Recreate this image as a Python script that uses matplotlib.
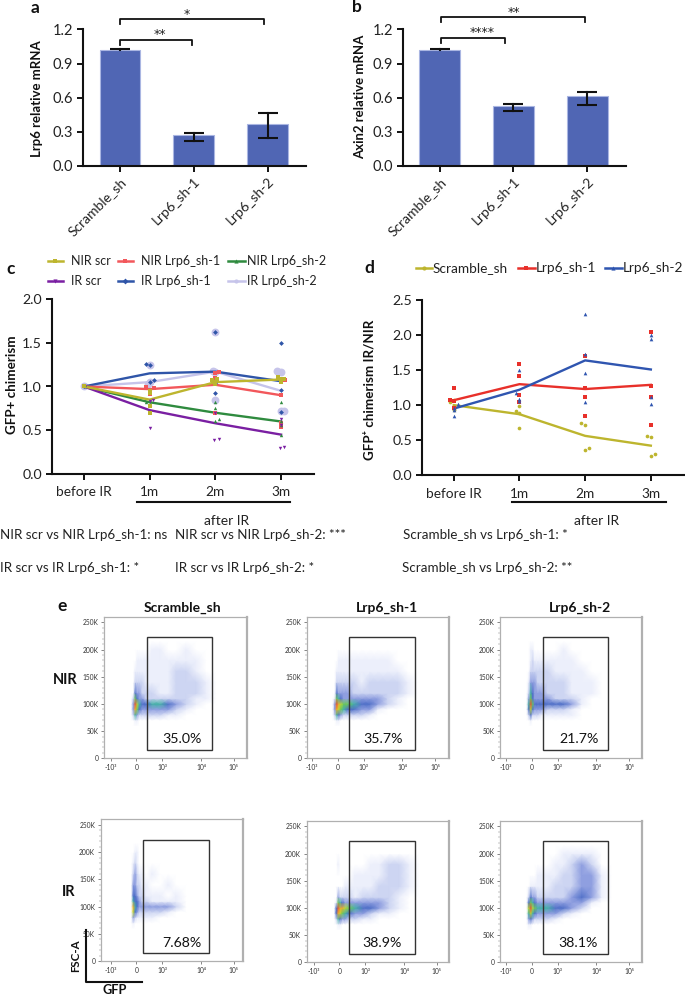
import matplotlib
matplotlib.use("Agg")
import matplotlib.pyplot as plt
import numpy as np
from matplotlib.colors import LinearSegmentedColormap
from matplotlib.patches import Rectangle
from matplotlib.lines import Line2D

plt.rcParams['font.family'] = ['Lato', 'DejaVu Sans']

# ---------- data ----------
bar_labels = ['Scramble_sh', 'Lrp6_sh-1', 'Lrp6_sh-2']
lrp6_vals = [1.015, 0.27, 0.365]
lrp6_hi = [1.025, 0.29, 0.46]
lrp6_lo = [1.015, 0.22, 0.24]
axin2_vals = [1.015, 0.525, 0.61]
axin2_hi = [1.03, 0.54, 0.65]
axin2_lo = [1.015, 0.48, 0.535]

time_labels = ['before IR', '1m', '2m', '3m']

c_names = ['NIR scr', 'NIR Lrp6_sh-1', 'NIR Lrp6_sh-2', 'IR scr', 'IR Lrp6_sh-1', 'IR Lrp6_sh-2']
c_means = {
    'NIR scr': [1.0, 0.85, 1.05, 1.08],
    'NIR Lrp6_sh-1': [1.0, 0.97, 1.02, 0.90],
    'NIR Lrp6_sh-2': [1.0, 0.82, 0.70, 0.60],
    'IR scr': [1.0, 0.73, 0.58, 0.45],
    'IR Lrp6_sh-1': [1.0, 1.15, 1.17, 1.06],
    'IR Lrp6_sh-2': [1.0, 1.05, 1.17, 0.95],
}
c_pts = {
    'NIR scr': [(0, 1.0), (1, .70), (1, .78), (1, .95), (1, .93), (2, 1.03), (1.95, 1.07), (2, 1.05), (2.03, 1.08), (3, 1.05), (2.95, 1.11), (3, 1.08), (3.05, 1.09)],
    'NIR Lrp6_sh-1': [(0, 1.0), (.95, .99), (1.06, .98), (1, .96), (1, .91), (2, 1.15), (2.06, 1.16), (2, 1.10), (2, .70), (3.06, 1.07), (3, .90), (3, .58), (3, .54)],
    'NIR Lrp6_sh-2': [(0, 1.0), (.95, .82), (1, .80), (1, .83), (2, .82), (2, .75), (2.05, .63), (1.99, .60), (3, .82), (3, .60), (3, .44), (3, .56)],
    'IR scr': [(0, 1.0), (1, .53), (1.05, .84), (1, .83), (1.98, .39), (2.05, .40), (2, .70), (2.98, .30), (3.05, .31), (3, .63), (3, .56)],
    'IR Lrp6_sh-1': [(0, 1.0), (.95, 1.26), (1, 1.24), (1.06, 1.07), (1, 1.05), (2, 1.62), (2, 1.10), (2, .93), (2, 1.04), (3, 1.50), (3, 1.07), (3, .96), (3, .71)],
    'IR Lrp6_sh-2': [(0, 1.0), (.97, 1.03), (1, 1.05), (1, 1.24), (2, 1.62), (2, 1.17), (1.97, 1.18), (2, .85), (2.94, 1.18), (3, 1.17), (3, .72), (3.05, .72)],
}
d_names = ['Scramble_sh', 'Lrp6_sh-1', 'Lrp6_sh-2']
d_means = {
    'Scramble_sh': [1.0, 0.87, 0.56, 0.42],
    'Lrp6_sh-1': [1.07, 1.30, 1.23, 1.29],
    'Lrp6_sh-2': [0.95, 1.22, 1.64, 1.51],
}
d_pts = {
    'Scramble_sh': [(-.06, 1.04), (0, 1.07), (0, .95), (0, .93), (.94, .91), (1, .89), (1, .99), (1, .67), (1.94, .74), (2, .72), (2, .36), (2.06, .39), (2.94, .56), (3, .54), (3, .27), (3.06, .30)],
    'Lrp6_sh-1': [(-.06, 1.08), (0, 1.24), (0, 1.06), (0, .96), (1, 1.59), (1, 1.41), (1, 1.15), (1, 1.05), (2, 1.70), (2, 1.24), (2, 1.12), (2, .85), (3, 2.05), (3, 1.28), (3, 1.12), (3, .71)],
    'Lrp6_sh-2': [(.06, 1.02), (0, .93), (0, .85), (0, .96), (1, 1.50), (.94, 1.17), (1, 1.09), (1, 1.06), (2, 2.30), (2, 1.73), (2, 1.46), (2, 1.04), (3, 2.0), (3, 1.94), (3, 1.12), (3, 1.02)],
}

stat_lines = [
    ('NIR scr vs NIR Lrp6_sh-1: ns', 0, 535), ('NIR scr vs NIR Lrp6_sh-2: ***', 175, 535),
    ('Scramble_sh vs Lrp6_sh-1: *', 403, 535), ('IR scr vs IR Lrp6_sh-1: *', 0, 568),
    ('IR scr vs IR Lrp6_sh-2: *', 175, 568), ('Scramble_sh vs Lrp6_sh-2: **', 402, 568),
]

# flow density levels (0 empty .. 9 peak)
flow_x = [-3, -1, 1, 3, 6, 10, 16, 24, 32, 40, 50, 60, 70, 80]
flow_y = [200, 180, 160, 140, 120, 110, 100, 90, 80, 70]
flow_nir_scr = [
    [0,0,0,0,0,0,1,1,0,0,1,0,0,0],
    [0,0,1,1,1,1,1,1,1,1,1,1,0,0],
    [0,1,1,1,1,1,1,1,1,2,2,1,0,0],
    [0,2,2,2,2,1,1,1,1,2,2,2,1,0],
    [0,4,3,3,2,2,2,1,1,2,2,2,1,0],
    [2,6,4,3,3,2,2,2,2,2,2,1,1,0],
    [3,9,7,5,4,4,5,5,4,3,2,1,0,0],
    [3,8,6,4,3,3,3,3,3,2,1,0,0,0],
    [2,5,3,2,2,2,2,2,1,1,0,0,0,0],
    [0,1,1,0,0,0,0,0,0,0,0,0,0,0]]
flow_nir_sh1 = [
    [0,0,0,0,0,0,0,0,0,0,0,0,0,0],
    [0,0,1,1,1,1,1,1,1,1,1,0,0,0],
    [0,1,1,1,1,1,1,1,1,1,1,1,0,0],
    [0,2,2,2,2,2,2,1,2,2,2,2,1,0],
    [0,4,3,3,3,3,2,2,2,2,2,2,1,0],
    [1,6,5,4,3,3,3,3,3,3,2,1,0,0],
    [3,9,8,7,6,6,5,4,4,3,2,1,0,0],
    [3,8,7,6,5,4,4,3,3,1,0,0,0,0],
    [2,5,4,3,2,2,2,2,1,0,0,0,0,0],
    [0,1,1,0,0,0,0,0,0,0,0,0,0,0]]
flow_nir_sh2 = [
    [0,1,1,0,0,0,0,0,1,0,0,0,0,0],
    [0,1,2,1,1,1,1,1,1,1,0,0,0,0],
    [0,2,2,2,2,2,2,1,1,1,1,0,0,0],
    [1,3,3,3,2,2,2,2,2,1,1,1,0,0],
    [2,5,4,3,3,3,2,2,2,1,1,1,0,0],
    [3,6,4,3,3,3,3,2,2,2,1,0,0,0],
    [5,9,6,4,4,4,4,4,4,3,1,0,0,0],
    [4,7,4,3,3,3,2,2,2,1,0,0,0,0],
    [2,4,2,2,2,1,1,1,1,1,0,0,0,0],
    [0,1,0,0,0,0,0,0,0,0,0,0,0,0]]
flow_ir_scr = [
    [0,1,1,0,0,0,0,0,0,0,0,0,0,0],
    [1,2,1,0,0,0,0,0,0,0,0,0,0,0],
    [2,3,2,1,1,0,1,0,0,0,0,0,0,0],
    [3,3,2,2,1,1,0,0,1,0,0,0,0,0],
    [4,4,3,2,2,1,1,1,0,1,0,0,0,0],
    [5,4,4,3,2,2,1,1,1,1,0,0,0,0],
    [8,5,4,3,3,3,3,3,3,2,0,0,0,0],
    [7,4,3,2,2,2,2,2,1,0,0,0,0,0],
    [3,2,1,1,1,1,1,0,0,0,0,0,0,0],
    [1,0,0,0,0,0,0,0,0,0,0,0,0,0]]
flow_ir_sh1 = [
    [0,0,0,0,0,0,0,0,0,0,0,0,0,0],
    [0,1,0,0,0,0,0,0,1,1,2,2,1,0],
    [0,0,0,0,0,0,1,1,1,1,2,2,1,0],
    [0,0,0,0,1,1,1,1,1,2,2,2,1,0],
    [0,3,2,2,2,2,1,2,2,2,2,1,0,0],
    [1,6,5,4,3,3,3,3,3,3,2,1,0,0],
    [4,9,8,8,7,6,5,4,4,3,2,1,0,0],
    [4,8,7,6,5,4,3,3,2,1,1,0,0,0],
    [2,5,4,3,3,2,2,1,1,0,0,0,0,0],
    [0,1,1,0,0,0,0,0,0,0,0,0,0,0]]
flow_ir_sh2 = [
    [0,0,0,0,0,0,0,0,1,1,1,1,0,0],
    [0,0,0,0,0,0,0,1,1,2,3,2,0,0],
    [0,0,0,0,1,1,1,1,2,2,3,3,1,0],
    [0,1,1,1,1,1,1,2,2,2,3,3,1,0],
    [2,4,3,3,2,2,2,2,2,3,4,3,1,0],
    [4,6,5,4,3,3,3,3,3,3,3,1,0,0],
    [7,9,7,6,5,5,5,4,4,3,2,0,0,0],
    [5,7,5,4,3,3,3,3,2,1,0,0,0,0],
    [3,4,3,2,2,2,2,1,0,0,0,0,0,0],
    [1,1,0,0,0,0,0,0,0,0,0,0,0,0]]
flow_pct = ['35.0%', '35.7%', '21.7%', '7.68%', '38.9%', '38.1%']
flow_yticks = [0, 50, 100, 150, 200, 250]
flow_ylabels = ['0', '50K', '100K', '150K', '200K', '250K']
flow_xlabels = ['-10³', '0', '10³', '10⁴', '10⁵']

# ---------- layout helpers ----------
W, H = 685, 996
fig = plt.figure(figsize=(W / 100, H / 100), dpi=100, facecolor='white')


def ax_px(l, t, r, b, **kw):
    return fig.add_axes([l / W, 1 - b / H, (r - l) / W, (b - t) / H], **kw)


ov = fig.add_axes([0, 0, 1, 1], zorder=10)
ov.set_xlim(0, W)
ov.set_ylim(H, 0)
ov.axis('off')
ov.patch.set_alpha(0)

BLK = '#111111'
TXT = '#222222'


def style_axes(ax, fs):
    for s in ('top', 'right'):
        ax.spines[s].set_visible(False)
    for s in ('left', 'bottom'):
        ax.spines[s].set_linewidth(1.5)
        ax.spines[s].set_color(BLK)
    ax.tick_params(axis='both', width=1.4, length=4, color=BLK, labelsize=fs, labelcolor=TXT, pad=3)


def ylabel_at(ax, box, text, xpx, ypx, fs):
    l, t, r, b = box
    ax.set_ylabel(text, fontsize=fs, fontweight='bold', color=BLK, va='center')
    ax.yaxis.set_label_coords((xpx - l) / (r - l), (b - ypx) / (b - t))


def bar_panel(box, vals, hi, lo, ylab, labx, laby):
    l, t, r, b = box
    ax = ax_px(l, t, r, b)
    style_axes(ax, 10.5)
    x = np.arange(len(vals))
    ax.bar(x, vals, width=0.55, color='#5066b4', edgecolor='#aab6e2', linewidth=0.8, zorder=2)
    for xi, h, lw in zip(x, hi, lo):
        ax.plot([xi, xi], [lw, h], color=BLK, lw=1.5, zorder=3)
        for yy in (h, lw):
            if h - lw > 0.02 or yy == h:
                ax.plot([xi - 0.135, xi + 0.135], [yy, yy], color=BLK, lw=1.5, zorder=3, solid_capstyle='butt')
    ax.set_xlim(-0.5, 2.52)
    ax.set_ylim(0, 1.2)
    ax.set_yticks([0, .3, .6, .9, 1.2])
    ax.set_yticklabels(['0.0', '0.3', '0.6', '0.9', '1.2'])
    ax.set_xticks(x)
    ax.set_xticklabels(bar_labels, rotation=45, ha='right', rotation_mode='anchor', fontsize=10)
    ylabel_at(ax, box, ylab, labx, laby, 9.5)
    return ax


def bracket(x0, x1, ytop, ytip, star, sx, sy):
    ov.plot([x0, x0, x1, x1], [ytip, ytop, ytop, ytip], color=BLK, lw=1.3, solid_joinstyle='round')
    ov.text(sx, sy, star, ha='center', va='center', fontsize=9, color=TXT, family='DejaVu Sans')


# ---------- a, b ----------
bar_panel((83, 29.5, 306, 165.7), lrp6_vals, lrp6_hi, lrp6_lo, 'Lrp6 relative mRNA', 37, 99)
bar_panel((402.7, 29.5, 625.7, 165.7), axin2_vals, axin2_hi, axin2_lo, 'Axin2 relative mRNA', 360, 97)
bracket(120, 264, 19.3, 24, '*', 186.7, 14)
bracket(120, 191.7, 40, 45, '**', 160, 34)
bracket(441, 585, 16.7, 22, '**', 514, 12)
bracket(441, 505, 38.3, 43, '****', 481.7, 32)

# ---------- c, d ----------
c_colors = {'NIR scr': '#bdb52e', 'NIR Lrp6_sh-1': '#f2575b', 'NIR Lrp6_sh-2': '#2f8b3f',
            'IR scr': '#7a1fa2', 'IR Lrp6_sh-1': '#2f55a8', 'IR Lrp6_sh-2': '#c6c4ea'}
c_marks = {'NIR scr': 's', 'NIR Lrp6_sh-1': 's', 'NIR Lrp6_sh-2': '^',
           'IR scr': 'v', 'IR Lrp6_sh-1': 'D', 'IR Lrp6_sh-2': 'o'}
d_colors = {'Scramble_sh': '#bdb52e', 'Lrp6_sh-1': '#e8302a', 'Lrp6_sh-2': '#2f55b0'}
d_marks = {'Scramble_sh': 'o', 'Lrp6_sh-1': 's', 'Lrp6_sh-2': '^'}


def time_axes(box, xmax, ymax, yticks, ylab, labx, laby):
    l, t, r, b = box
    ax = ax_px(l, t, r, b)
    style_axes(ax, 10.2)
    ax.set_xlim(-0.488, xmax)
    ax.set_ylim(0, ymax)
    ax.set_yticks(yticks)
    ax.set_yticklabels([f'{v:.1f}' for v in yticks])
    ax.set_xticks(range(4))
    ax.set_xticklabels(time_labels, fontsize=9.8)
    ax.tick_params(axis='x', pad=5)
    ylabel_at(ax, box, ylab, labx, laby, 9.6)
    return ax


axc = time_axes((51.7, 299, 314, 474), 3.5, 2.0, [0, .5, 1, 1.5, 2], 'GFP+ chimerism', 12, 385)
order_c = ['IR Lrp6_sh-2', 'IR Lrp6_sh-1', 'NIR Lrp6_sh-1', 'NIR Lrp6_sh-2', 'IR scr', 'NIR scr']
for n in order_c:
    px, py = zip(*c_pts[n])
    size = 32 if n == 'IR Lrp6_sh-2' else 6
    axc.scatter(px, py, s=size, marker=c_marks[n], color=c_colors[n], linewidths=0, zorder=2 if size > 10 else 4, clip_on=False)
    axc.plot(range(4), c_means[n], color=c_colors[n], lw=1.7, zorder=3)

axd = time_axes((421.7, 300.3, 685, 475), 3.52, 2.5, [0, .5, 1, 1.5, 2, 2.5], 'GFP⁺ chimerism IR/NIR', 369, 390)
for n in d_names:
    px, py = zip(*d_pts[n])
    axd.scatter(px, py, s=7, marker=d_marks[n], color=d_colors[n], linewidths=0, zorder=4)
    axd.plot(range(4), d_means[n], color=d_colors[n], lw=1.7, zorder=3)

# manual legends
leg_c = [('NIR scr', 48, 63, 71.5, 260.7), ('NIR Lrp6_sh-1', 118, 133, 141, 260.7), ('NIR Lrp6_sh-2', 228, 245, 247, 260.7),
         ('IR scr', 48, 63, 71.5, 281), ('IR Lrp6_sh-1', 118, 133, 141, 281), ('IR Lrp6_sh-2', 228, 245, 247, 281)]
for n, x0, x1, tx, yy in leg_c:
    ov.add_line(Line2D([x0, x1], [yy, yy], color=c_colors[n], lw=1.8))
    ov.plot([(x0 + x1) / 2], [yy], marker=c_marks[n], ms=3, color=c_colors[n], mew=0)
    ov.text(tx, yy, n, ha='left', va='center', fontsize=9, color=TXT)
leg_d = [('Scramble_sh', 416, 432, 432.5), ('Lrp6_sh-1', 518, 535, 535.5), ('Lrp6_sh-2', 605, 622, 622.5)]
for n, x0, x1, tx in leg_d:
    ov.add_line(Line2D([x0, x1], [268, 268], color=d_colors[n], lw=1.8))
    ov.plot([(x0 + x1) / 2], [268], marker=d_marks[n], ms=3, color=d_colors[n], mew=0)
    ov.text(tx, 268, n, ha='left', va='center', fontsize=9.8, color=TXT)

for x0, x1, xc in [(137, 290, 227), (512, 665.7, 597)]:
    ov.add_line(Line2D([x0, x1], [502, 502], color=BLK, lw=1.5))
    ov.text(xc, 521, 'after IR', ha='center', va='center', fontsize=10, color=TXT)

for s, x, y in stat_lines:
    ov.text(x, y, s, ha='left', va='center', fontsize=9.6, color=TXT)

for s, x, y in [('a', 35, 8), ('b', 357, 7), ('c', 11, 269), ('d', 369, 268), ('e', 62, 606)]:
    ov.text(x, y, s, ha='center', va='center', fontsize=12.5, fontweight='bold', color=BLK)

# ---------- e ----------
flow_cmap = LinearSegmentedColormap.from_list('flow', [
    (0.0, '#ffffff'), (1 / 9, '#eceffb'), (2 / 9, '#ccd4f2'), (3 / 9, '#8f9fe0'), (4 / 9, '#4f6fc8'),
    (5 / 9, '#45b0a8'), (6 / 9, '#6cc85a'), (7 / 9, '#bcd936'), (8 / 9, '#f1ae2f'), (1.0, '#e8503a')])

panels = [
    (flow_nir_scr, (104.3, 616.7, 246.7, 758.3), 136.3, (147.3, 212.3, 637.3, 750), 182, 739),
    (flow_nir_sh1, (306.7, 616.7, 449, 758.3), 337.7, (349.3, 414.7, 637.3, 750), 383, 739),
    (flow_nir_sh2, (500, 616.7, 642.3, 758.3), 531.7, (542.7, 608, 637.3, 750), 579, 739),
    (flow_ir_scr, (100.7, 819.3, 243.3, 961), 136.3, (143.3, 208.7, 840, 953), 182, 942.7),
    (flow_ir_sh1, (306.7, 820.7, 449, 962.3), 339.3, (349.3, 414.7, 841.3, 954.3), 382, 943),
    (flow_ir_sh2, (500, 820.7, 642.3, 962.3), 531.7, (542.7, 608, 841.3, 954.3), 577.7, 943),
]
tick_off = [-25.6, 0, 26, 64.7, 97.4]
for (mat, box, x0, gate, tx, ty), pct in zip(panels, flow_pct):
    l, t, r, b = box
    ax = ax_px(l, t, r, b)
    k_per_px = 50 / 27.2
    ax.set_xlim(l - x0, r - x0)
    ax.set_ylim(0, (b - t) * k_per_px)
    grid_x = np.array([-5] + flow_x + [90])
    grid_y = np.array([60] + flow_y[::-1] + [215])
    M = np.array(mat, dtype=float)[::-1]
    Z = np.zeros((len(grid_y), len(grid_x)))
    Z[1:-1, 1:-1] = M
    ax.pcolormesh(grid_x, grid_y, Z, cmap=flow_cmap, vmin=0, vmax=9, shading='gouraud', rasterized=True, zorder=1)
    for s in ax.spines.values():
        s.set_color('#b0b0b0')
        s.set_linewidth(0.9)
    ax.spines['right'].set_linewidth(1.6)
    ax.set_yticks(flow_yticks)
    ax.set_yticklabels(flow_ylabels)
    ax.set_xticks(tick_off)
    ax.set_xticklabels(flow_xlabels)
    ax.set_yticks(np.arange(0, 260, 10), minor=True)
    ax.tick_params(axis='both', which='major', length=2.5, width=0.5, labelsize=4.8, color='#555555', labelcolor='#333333', pad=1.5)
    ax.tick_params(axis='y', which='minor', length=1.2, width=0.3, color='#777777')
    ax.add_patch(Rectangle((gate[0] - x0, (b - gate[3]) * k_per_px), gate[1] - gate[0], (gate[3] - gate[2]) * k_per_px,
                           fill=False, edgecolor='#333333', linewidth=1.0, zorder=3))
    ov.text(tx, ty, pct, ha='center', va='center', fontsize=10.2, color=BLK)

for s, x in [('Scramble_sh', 182), ('Lrp6_sh-1', 387), ('Lrp6_sh-2', 580)]:
    ov.text(x, 608, s, ha='center', va='center', fontsize=10, fontweight='bold', color=BLK)
ov.text(65, 680, 'NIR', ha='center', va='center', fontsize=10.5, fontweight='bold', color=BLK)
ov.text(69, 892, 'IR', ha='center', va='center', fontsize=10.5, fontweight='bold', color=BLK)
ov.plot([86, 86, 142], [930, 982, 982], color=BLK, lw=1.5)
ov.text(75.5, 956, 'FSC-A', rotation=90, ha='center', va='center', fontsize=8.3, fontweight='bold', color=BLK)
ov.text(115, 990, 'GFP', ha='center', va='center', fontsize=9.2, fontweight='bold', color=BLK)

fig.savefig('out.png', dpi=100)
